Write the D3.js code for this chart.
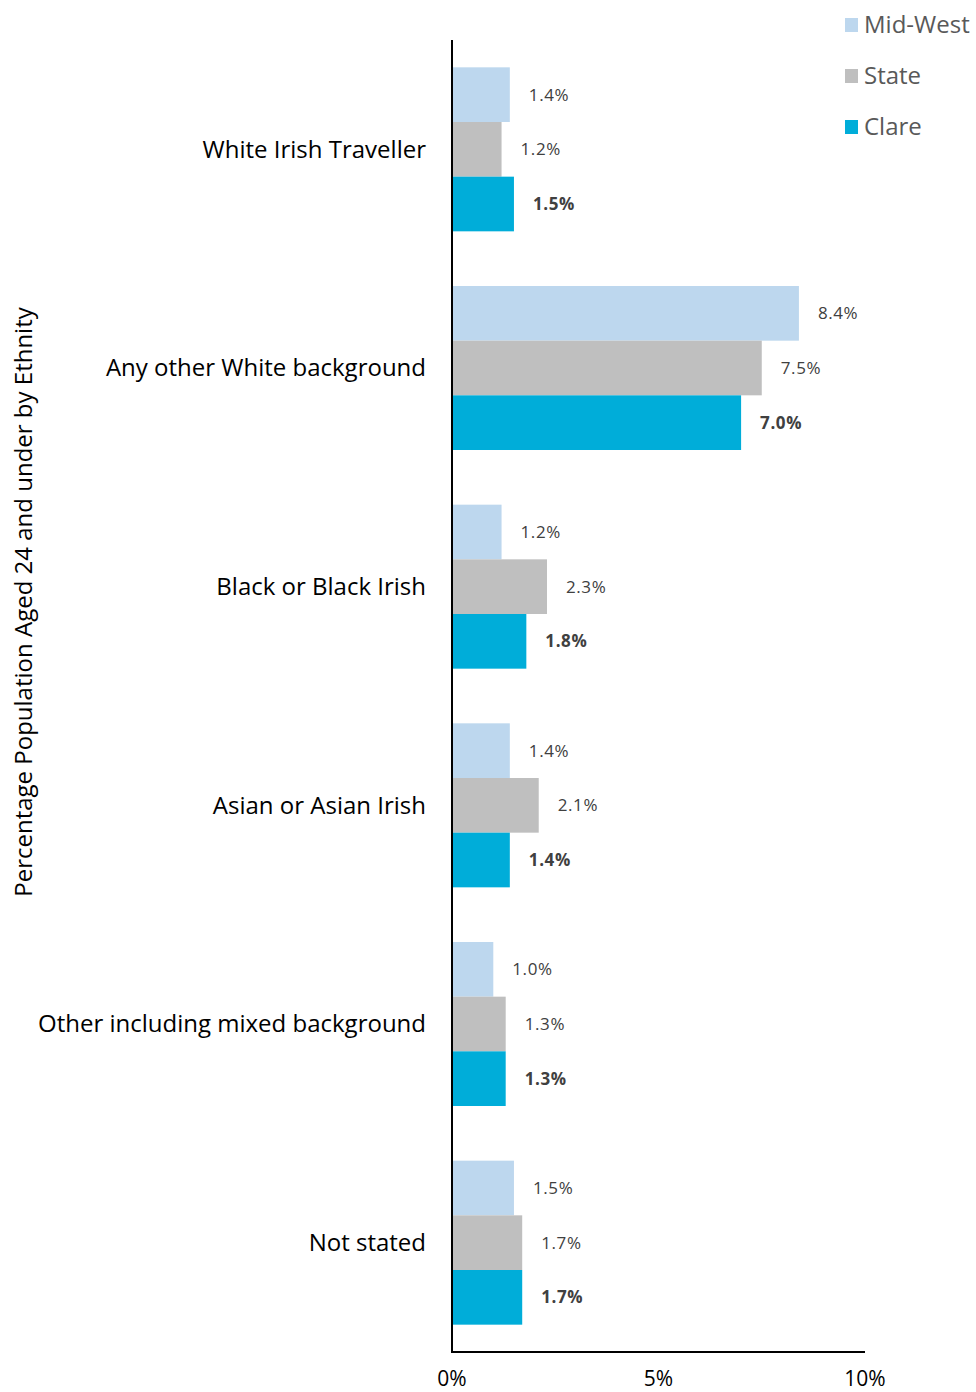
<!DOCTYPE html>
<html>
<head>
<meta charset="utf-8">
<script src="https://cdn.jsdelivr.net/npm/d3@7"></script>
<style>
  body { margin: 0; background: #fff; }
  text { font-family: "Open Sans", sans-serif; }
</style>
</head>
<body>
<svg id="mainSvg" width="976" height="1392"></svg>
<script>
// data
let categories = ['White Irish Traveller', 'Any other White background', 'Black or Black Irish',
    'Asian or Asian Irish', 'Other including mixed background', 'Not stated']
let series = ['Mid-West', 'State', 'Clare']
let midWest = [1.4, 8.4, 1.2, 1.4, 1.0, 1.5]
let state = [1.2, 7.5, 2.3, 2.1, 1.3, 1.7]
let clare = [1.5, 7.0, 1.8, 1.4, 1.3, 1.7]
let ticks = [0, 5, 10]
let colors = ['#BDD7EE', '#BFBFBF', '#00ADD9']

let svg = d3.select('#mainSvg')
let plotLeft = 452, plotRight = 865, plotTop = 40, plotBottom = 1352

let x = d3.scaleLinear().domain([0, 10]).range([plotLeft, plotRight])
let y = d3.scaleBand().domain(categories).range([plotTop, plotBottom]).paddingInner(0.25).paddingOuter(0.125)
let sub = d3.scaleBand().domain(series).range([0, y.bandwidth()])

let values = [midWest, state, clare]
let rows = []
categories.forEach(function (c, i) {
    series.forEach(function (s, j) {
        rows.push({ cat: c, ser: s, v: values[j][i], k: j })
    })
})

let g = svg.append('g')
g.selectAll('rect')
    .data(rows)
    .enter()
    .append('rect')
    .attr('x', x(0))
    .attr('y', d => y(d.cat) + sub(d.ser))
    .attr('width', d => x(d.v) - x(0))
    .attr('height', sub.bandwidth())
    .attr('fill', d => colors[d.k])

g.selectAll('text.val')
    .data(rows)
    .enter()
    .append('text')
    .attr('class', 'val')
    .attr('x', d => x(d.v) + 19)
    .attr('y', d => y(d.cat) + sub(d.ser) + sub.bandwidth() / 2)
    .attr('dy', '0.35em')
    .attr('font-size', 17)
    .attr('letter-spacing', 0.6)
    .attr('fill', '#404040')
    .attr('font-weight', d => d.k === 2 ? 'bold' : 'normal')
    .text(d => d.v.toFixed(1) + '%')

// category labels
svg.append('g')
    .selectAll('text')
    .data(categories)
    .enter()
    .append('text')
    .attr('x', 426)
    .attr('y', d => y(d) + y.bandwidth() / 2)
    .attr('dy', '0.35em')
    .attr('text-anchor', 'end')
    .attr('font-size', 24)
    .attr('fill', '#000')
    .text(d => d)

// axes lines
svg.append('line').attr('x1', plotLeft).attr('x2', plotLeft).attr('y1', plotTop).attr('y2', plotBottom + 1)
    .attr('stroke', '#000').attr('stroke-width', 2)
svg.append('line').attr('x1', plotLeft - 1).attr('x2', plotRight).attr('y1', plotBottom).attr('y2', plotBottom)
    .attr('stroke', '#000').attr('stroke-width', 2)

svg.append('g')
    .selectAll('text')
    .data(ticks)
    .enter()
    .append('text')
    .attr('x', d => x(d))
    .attr('y', 1386)
    .attr('text-anchor', 'middle')
    .attr('font-size', 21)
    .attr('fill', '#000')
    .text(d => d + '%')

// y title
svg.append('text')
    .attr('transform', 'translate(32,602) rotate(-90)')
    .attr('text-anchor', 'middle')
    .attr('font-size', 24)
    .attr('fill', '#000')
    .text('Percentage Population Aged 24 and under by Ethnity')

// legend
let leg = svg.append('g')
series.forEach(function (s, i) {
    let ly = 25 + i * 51
    leg.append('rect').attr('x', 845).attr('y', ly - 7).attr('width', 13).attr('height', 14).attr('fill', colors[i])
    leg.append('text').attr('x', 864).attr('y', ly).attr('dy', '0.35em')
        .attr('font-size', 24).attr('fill', '#595959').text(s)
})
</script>
</body>
</html>
